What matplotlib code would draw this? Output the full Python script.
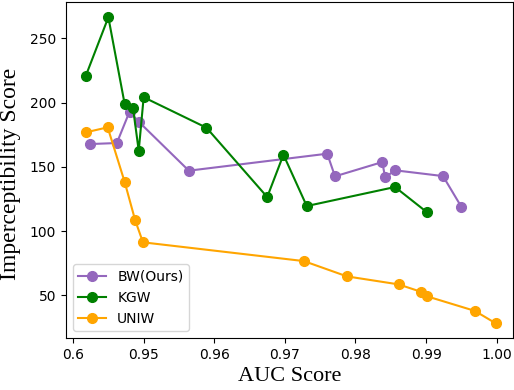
import matplotlib.pyplot as plt

# data
bw_x = [0.9424, 0.9462, 0.9480, 0.9493, 0.9564, 0.9760, 0.9771, 0.9838, 0.9842, 0.9856, 0.9924, 0.9950]
bw_y = [167.7, 168.5, 192.9, 185.1, 147.0, 160.2, 142.6, 153.7, 141.8, 147.3, 142.8, 118.9]

kgw_x = [0.9418, 0.9450, 0.9473, 0.9485, 0.9493, 0.9500, 0.9589, 0.9675, 0.9698, 0.9731, 0.9856, 0.9901]
kgw_y = [220.7, 266.3, 199.1, 195.5, 162.5, 204.1, 180.4, 126.5, 159.4, 119.5, 134.3, 114.8]

uniw_x = [0.9418, 0.9449, 0.9473, 0.9488, 0.9499, 0.9727, 0.9788, 0.9861, 0.9893, 0.9902, 0.9969, 0.9999]
uniw_y = [176.8, 180.7, 138.4, 108.4, 91.3, 76.7, 64.8, 58.6, 52.8, 49.2, 38.0, 28.2]

xticks = [0.94, 0.95, 0.96, 0.97, 0.98, 0.99, 1.00]
xtick_labels = ['0.6', '0.95', '0.96', '0.97', '0.98', '0.99', '1.00']
yticks = [50, 100, 150, 200, 250]

fig = plt.figure(figsize=(5.14, 3.90), dpi=100)
ax = fig.add_axes([0.128, 0.133, 0.870, 0.862])

ax.plot(bw_x, bw_y, '-o', color='tab:purple', lw=1.5, ms=7, label='BW(Ours)')
ax.plot(kgw_x, kgw_y, '-o', color='green', lw=1.5, ms=7, label='KGW')
ax.plot(uniw_x, uniw_y, '-o', color='orange', lw=1.5, ms=7, label='UNIW')

ax.set_xlim(0.93897, 1.00231)
ax.set_ylim(16.8, 278.2)
ax.set_xticks(xticks)
ax.set_xticklabels(xtick_labels)
ax.set_yticks(yticks)
ax.tick_params(labelsize=10)

ax.set_xlabel('AUC Score', fontfamily='Liberation Serif', fontsize=16)
ax.set_ylabel('Imperceptibility Score', fontfamily='Liberation Serif', fontsize=17)
ax.yaxis.set_label_coords(-0.1, 0.49)

ax.legend(loc='lower left', fontsize=10)

fig.savefig('out.png', dpi=100)
